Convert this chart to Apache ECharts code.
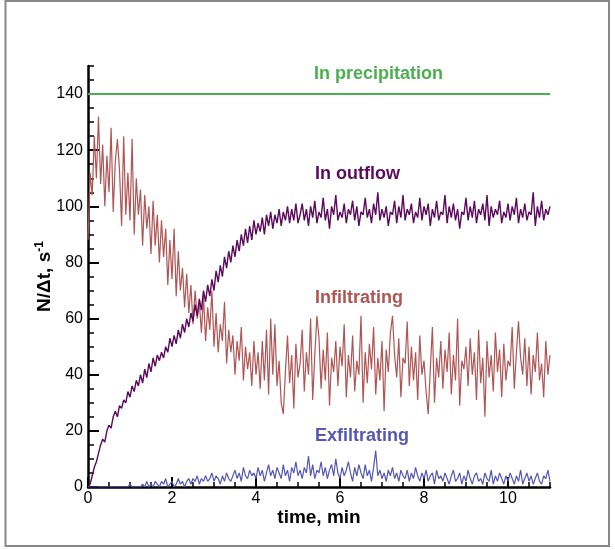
<!DOCTYPE html>
<html>
<head>
<meta charset="utf-8">
<script src="https://cdn.jsdelivr.net/npm/echarts@6/dist/echarts.min.js"></script>
<style>html,body{margin:0;padding:0;background:#fff}#c{width:615px;height:550px}</style>
</head>
<body>
<div id="c"></div>
<script>
// time step of samples (min)
var STEP = 0.05;
var xTicks = [0, 2, 4, 6, 8, 10];
var yTicks = [0, 20, 40, 60, 80, 100, 120, 140];

var precipitation = [[0, 140], [11, 140]];

var outflow = [
  0,1,4,7,9,12,15,17,16,20,
  22,21,25,27,25,29,28,31,30,34,
  32,36,34,38,36,40,37,42,39,44,
  41,46,43,47,45,48,46,50,48,53,
  50,54,51,56,53,58,55,60,57,62,
  59,65,61,67,63,70,66,72,68,74,
  70,77,73,79,75,82,78,84,80,86,
  82,88,84,90,86,92,87,93,88,95,
  90,94,91,96,90,97,93,98,92,97,
  94,99,93,98,95,100,94,99,95,101,
  94,
  97,101,95,99,93,100,96,102,94,98,
  96,103,95,99,92,100,97,104,95,98,
  96,101,94,99,97,102,95,100,93,98,
  97,103,96,99,94,101,97,105,95,99,
  96,100,93,98,97,102,94,100,96,104,
  95,99,97,101,94,98,96,103,95,100,
  97,101,93,99,96,102,95,98,97,104,
  94,100,96,101,95,99,92,98,97,103,
  95,100,96,102,94,99,97,101,95,104,
  93,100,96,99,97,102,94,98,96,101,
  95,100,97,103,94,99,96,101,95,98,
  97,105,93,100,96,102,95,99,97,100
];

var infiltrating = [
  88,112,104,125,110,132,108,122,100,118,
  105,128,98,116,124,113,93,125,97,112,
  95,124,90,110,97,106,86,104,92,100,
  83,102,86,97,80,95,82,92,72,88,
  74,92,68,84,70,78,64,76,62,72,
  58,70,60,66,55,68,52,64,56,70,
  50,62,48,58,52,66,44,56,48,54,
  40,52,45,57,38,50,42,48,36,52,
  40,
  48,35,52,38,56,33,60,40,58,36,
  45,30,26,41,54,37,47,28,51,39,
  44,56,34,48,40,60,31,47,61,53,
  35,49,38,55,29,46,41,52,36,50,
  43,58,32,47,39,54,34,45,40,61,
  30,48,37,51,42,57,33,46,38,52,
  27,49,41,55,61,47,39,53,32,46,
  44,59,36,50,38,48,31,54,40,45,
  34,26,42,57,30,46,39,52,35,49,
  41,55,33,47,38,60,29,45,42,50,
  36,53,40,48,31,56,37,46,25,52,
  39,47,34,55,41,49,32,51,38,45,
  43,57,35,48,59,46,40,53,36,50,
  33,47,41,55,38,44,32,52,40,47
];

var exfiltrating = [
  0,0,0,0,0,0,0,0,0,0,
  0,0,0,0,0,0,0,0,0,0,
  1,0,0,0,0,0,1,0,2,0,
  1,0,2,1,0,2,1,3,0,1,
  2,0,1,3,1,2,0,2,3,1,
  3,2,4,1,3,2,4,2,3,5,
  2,4,3,1,4,2,5,3,2,4,
  6,3,5,2,7,4,3,6,4,5,
  3,7,4,6,2,5,8,4,6,3,
  7,5,3,8,4,6,2,7,5,9,
  4,6,3,7,5,11,4,8,3,6,
  5,9,4,7,3,6,8,4,10,5,
  3,7,4,6,9,5,2,7,4,8,
  5,3,8,4,6,2,7,13,4,6,
  3,5,2,6,4,7,3,5,2,6,
  4,3,6,2,5,3,7,4,2,5,
  3,6,2,4,5,1,6,3,4,2,
  5,3,1,4,6,2,3,5,1,4,
  2,6,3,1,4,5,2,3,1,5,
  3,2,6,1,4,2,5,3,1,4,
  2,5,3,1,4,2,6,1,3,5,
  2,4,1,3,5,2,1,4,3,6,
  2
];

function pairs(arr) {
  return arr.map(function (v, i) { return [+(i * STEP).toFixed(2), v]; });
}

var FONT = 'Liberation Sans, Arial, sans-serif';
var chart = echarts.init(document.getElementById('c'), null, { renderer: 'canvas' });

chart.setOption({
  animation: false,
  backgroundColor: '#fff',
  grid: { left: 88, right: 65, top: 66, bottom: 63, containLabel: false },
  xAxis: [
    {
      type: 'value', min: 0, max: 11, position: 'bottom',
      name: 'time, min', nameLocation: 'middle', nameGap: 21, nameMoveOverlap: false,
      nameTextStyle: { fontFamily: FONT, fontWeight: 'bold', fontSize: 19, color: '#000' },
      axisLine: { show: true, onZero: false, lineStyle: { color: '#000', width: 2.5 } },
      axisTick: { show: true, inside: true, length: 10, customValues: xTicks, lineStyle: { color: '#000', width: 2 } },
      axisLabel: { customValues: xTicks, color: '#000', fontFamily: FONT, fontSize: 16, margin: 4 },
      splitLine: { show: false }
    },
    {
      type: 'value', min: 0, max: 11, interval: 0.5, position: 'bottom',
      axisLine: { show: false, onZero: false },
      axisTick: { show: true, inside: true, length: 5, lineStyle: { color: '#000', width: 1.5 } },
      axisLabel: { show: false },
      splitLine: { show: false }
    }
  ],
  yAxis: [
    {
      type: 'value', min: 0, max: 150, position: 'left',
      name: '{a|N/\u0394t, s}{b|-1}', nameLocation: 'middle', nameGap: 33, nameRotate: 90, nameMoveOverlap: false,
      nameTextStyle: {
        rich: {
          a: { fontFamily: FONT, fontWeight: 'bold', fontSize: 19, color: '#000' },
          b: { fontFamily: FONT, fontWeight: 'bold', fontSize: 12, color: '#000', verticalAlign: 'top', padding: [0, 0, 9, 0] }
        }
      },
      axisLine: { show: true, onZero: false, lineStyle: { color: '#000', width: 2.5 } },
      axisTick: { show: true, inside: true, length: 11, customValues: yTicks, lineStyle: { color: '#000', width: 2 } },
      axisLabel: { customValues: yTicks, color: '#000', fontFamily: FONT, fontSize: 16, margin: 5 },
      splitLine: { show: false }
    },
    {
      type: 'value', min: 0, max: 150, interval: 5, position: 'left',
      axisLine: { show: false, onZero: false },
      axisTick: { show: true, inside: true, length: 6, lineStyle: { color: '#000', width: 1.5 } },
      axisLabel: { show: false },
      splitLine: { show: false }
    }
  ],
  series: [
    {
      name: 'In precipitation', type: 'line', data: precipitation, showSymbol: false,
      lineStyle: { color: '#4caf50', width: 2 }, z: 3
    },
    {
      name: 'Infiltrating', type: 'line', data: pairs(infiltrating), showSymbol: false,
      lineStyle: { color: '#b05454', width: 1.2 }, z: 2
    },
    {
      name: 'In outflow', type: 'line', data: pairs(outflow), showSymbol: false,
      lineStyle: { color: '#5c0a5c', width: 1.4 }, z: 4
    },
    {
      name: 'Exfiltrating', type: 'line', data: pairs(exfiltrating), showSymbol: false,
      lineStyle: { color: '#5656b4', width: 1.2 }, z: 5
    }
  ],
  graphic: [
    { type: 'rect', shape: { x: 5.5, y: 1, width: 603.5, height: 545 }, style: { fill: null, stroke: '#888', lineWidth: 2 }, silent: true },
    { type: 'text', left: 314, top: 65, style: { text: 'In precipitation', fill: '#4caf50', font: 'bold 18px ' + FONT } },
    { type: 'text', left: 315, top: 165, style: { text: 'In outflow', fill: '#5c0a5c', font: 'bold 18px ' + FONT } },
    { type: 'text', left: 315, top: 289, style: { text: 'Infiltrating', fill: '#b05454', font: 'bold 18px ' + FONT } },
    { type: 'text', left: 315, top: 427, style: { text: 'Exfiltrating', fill: '#5656b4', font: 'bold 18px ' + FONT } }
  ]
});
</script>
</body>
</html>
